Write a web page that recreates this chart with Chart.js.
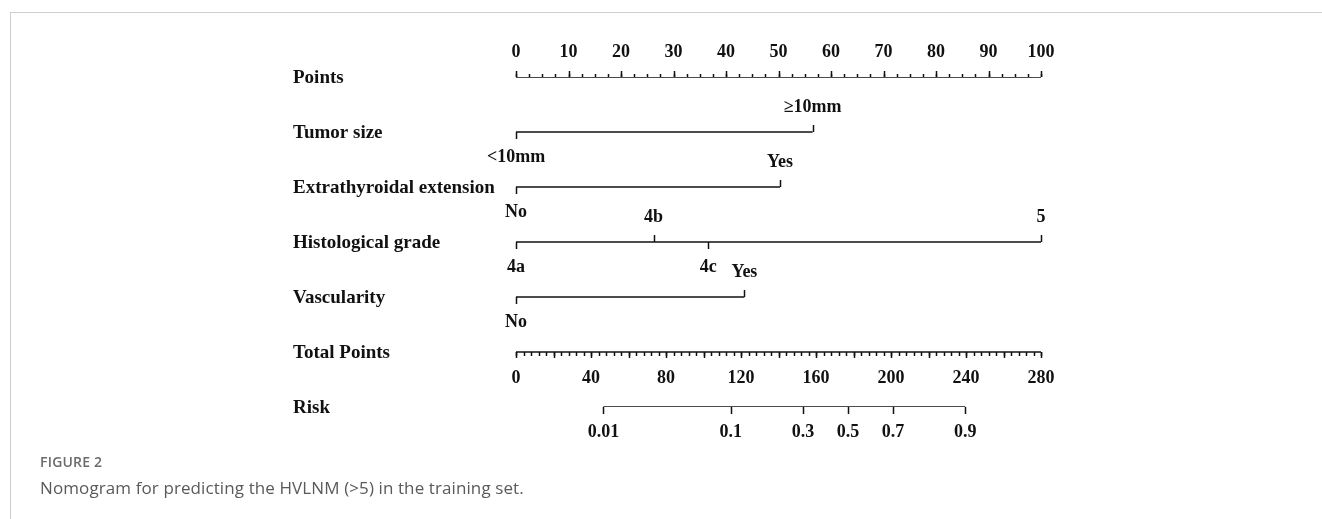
<!DOCTYPE html>
<html>
<head>
<meta charset="utf-8">
<script src="https://cdn.jsdelivr.net/npm/chart.js@4.4.1/dist/chart.umd.min.js"></script>
<style>
  html, body { margin: 0; padding: 0; background: #fff; }
  #wrap { position: relative; width: 1322px; height: 519px; overflow: hidden; }
  #frame { position: absolute; left: 10px; top: 12px; width: 1330px; height: 520px;
           border-top: 1px solid #cfcfcf; border-left: 1px solid #cfcfcf; }
  #nomo { position: absolute; left: 0; top: 0; }
  .figno { position: absolute; left: 40px; top: 452px; font-family: "Open Sans", sans-serif;
           font-size: 14px; font-weight: 600; color: #6b6b6b; letter-spacing: 0.2px; }
  .caption { position: absolute; left: 40px; top: 476px; font-family: "Open Sans", sans-serif;
             font-size: 17px; color: #5a5a5a; letter-spacing: 0.1px; }
</style>
</head>
<body>
<div id="wrap">
  <div id="frame"></div>
  <canvas id="nomo" width="1322" height="519"></canvas>
  <div class="figno">FIGURE 2</div>
  <div class="caption">Nomogram for predicting the HVLNM (&gt;5) in the training set.</div>
</div>
<script>
// Row titles, top to bottom
const rowTitles = ['Points', 'Tumor size', 'Extrathyroidal extension', 'Histological grade',
                   'Vascularity', 'Total Points', 'Risk'];

// Points scale (0-100)
const pointsTickLabels = ['0', '10', '20', '30', '40', '50', '60', '70', '80', '90', '100'];
const pointsTickValues = [0, 10, 20, 30, 40, 50, 60, 70, 80, 90, 100];

// Predictor levels and the points each level contributes
const tumorLevels = ['<10mm', '\u226510mm'];
const tumorPoints = [0, 56.5];
const eteLevels = ['No', 'Yes'];
const etePoints = [0, 50.3];
const gradeLevels = ['4a', '4b', '4c', '5'];
const gradePoints = [0, 26.2, 36.6, 100];
const vascLevels = ['No', 'Yes'];
const vascPoints = [0, 43.5];

// Total points scale (0-280)
const totalTickLabels = ['0', '40', '80', '120', '160', '200', '240', '280'];
const totalTickValues = [0, 40, 80, 120, 160, 200, 240, 280];

// Predicted risk and the total points where each risk value sits
const riskLabels = ['0.01', '0.1', '0.3', '0.5', '0.7', '0.9'];
const riskTotalPoints = [46.6, 114.5, 153.1, 177.0, 201.0, 239.6];

const factorRows = [
  { row: 1, levels: tumorLevels, pts: tumorPoints },
  { row: 2, levels: eteLevels,   pts: etePoints },
  { row: 3, levels: gradeLevels, pts: gradePoints },
  { row: 4, levels: vascLevels,  pts: vascPoints }
];

const INK = '#111';
const FONT = 'bold 18px "Liberation Serif", "Times New Roman", serif';
const TITLE_FONT = 'bold 19px "Liberation Serif", "Times New Roman", serif';

function segment(row, from, to, axis) {
  return {
    type: 'line',
    xAxisID: axis,
    data: [{ x: from, y: row }, { x: to, y: row }],
    borderColor: INK, borderWidth: 1.5, pointRadius: 0, fill: false, tension: 0
  };
}

const datasets = [
  segment(0, pointsTickValues[0], pointsTickValues[pointsTickValues.length - 1], 'x'),
  ...factorRows.map(f => segment(f.row, Math.min(...f.pts), Math.max(...f.pts), 'x')),
  segment(5, totalTickValues[0], totalTickValues[totalTickValues.length - 1], 'x2'),
  segment(6, riskTotalPoints[0], riskTotalPoints[riskTotalPoints.length - 1], 'x2')
];

const nomogramMarks = {
  id: 'nomogramMarks',
  afterDatasetsDraw(chart) {
    const ctx = chart.ctx;
    const xs = chart.scales.x, x2 = chart.scales.x2, ys = chart.scales.y;
    const tick = (x, y, len) => {
      ctx.beginPath();
      ctx.moveTo(Math.round(x) + 0.5, y);
      ctx.lineTo(Math.round(x) + 0.5, y + len);
      ctx.stroke();
    };
    ctx.save();
    ctx.strokeStyle = INK; ctx.fillStyle = INK; ctx.lineWidth = 1.5;
    ctx.textBaseline = 'middle';

    // row titles
    ctx.font = TITLE_FONT; ctx.textAlign = 'left';
    rowTitles.forEach((t, i) => ctx.fillText(t, 293, ys.getPixelForValue(i) + 1));

    ctx.font = FONT; ctx.textAlign = 'center';

    // Points axis: ticks rise above the line, labels on top
    const yP = ys.getPixelForValue(0);
    for (let v = 0; v <= 100; v += 2.5) tick(xs.getPixelForValue(v), yP, -3);
    pointsTickValues.forEach((v, i) => {
      const x = xs.getPixelForValue(v);
      tick(x, yP, -6);
      ctx.fillText(pointsTickLabels[i], x, yP - 25);
    });

    // predictor rows: levels alternate below / above the line
    factorRows.forEach(f => {
      const y = ys.getPixelForValue(f.row);
      f.levels.forEach((lab, i) => {
        const x = xs.getPixelForValue(f.pts[i]);
        const up = i % 2 === 1;
        tick(x, y, up ? -7 : 7);
        ctx.fillText(lab, x, y + (up ? -25 : 25));
      });
    });

    // Total points axis: ticks hang below, labels underneath
    const yT = ys.getPixelForValue(5);
    for (let v = 0; v <= 280; v += 4) tick(x2.getPixelForValue(v), yT, 4);
    for (let v = 0; v <= 280; v += 20) tick(x2.getPixelForValue(v), yT, 6);
    totalTickValues.forEach((v, i) => {
      ctx.fillText(totalTickLabels[i], x2.getPixelForValue(v), yT + 26);
    });

    // Risk axis
    const yR = ys.getPixelForValue(6);
    riskTotalPoints.forEach((v, i) => {
      const x = x2.getPixelForValue(v);
      tick(x, yR, 7);
      ctx.fillText(riskLabels[i], x, yR + 25);
    });
    ctx.restore();
  }
};

new Chart(document.getElementById('nomo'), {
  type: 'line',
  data: { datasets },
  options: {
    responsive: false,
    animation: false,
    layout: { padding: { left: 516, right: 281, top: 77, bottom: 112 } },
    plugins: { legend: { display: false }, tooltip: { enabled: false } },
    scales: {
      x:  { type: 'linear', min: 0, max: 100, display: false },
      x2: { type: 'linear', min: 0, max: 280, display: false },
      y:  { type: 'linear', min: 0, max: 6, reverse: true, display: false }
    }
  },
  plugins: [nomogramMarks]
});
</script>
</body>
</html>
